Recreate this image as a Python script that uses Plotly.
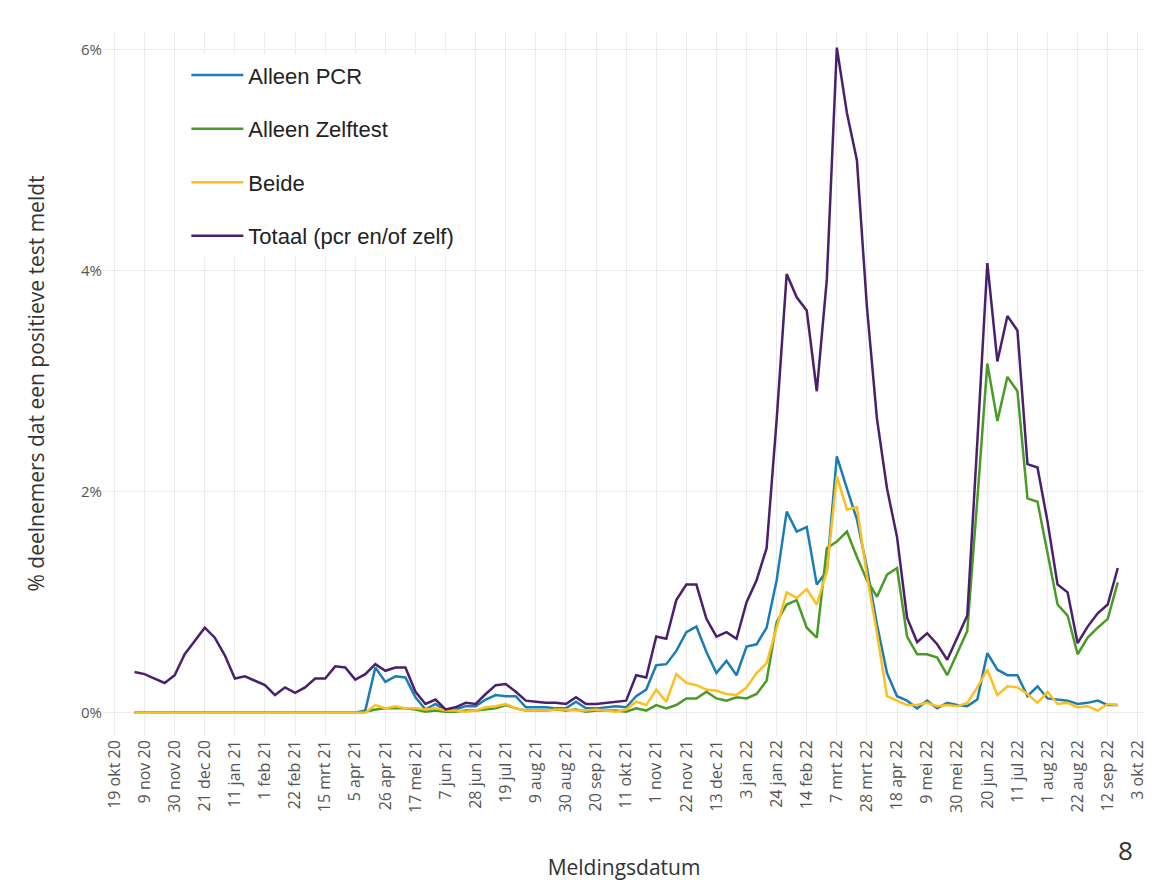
import plotly.graph_objects as go
import pandas as pd

dates = pd.date_range("2020-11-02", periods=99, freq="7D")

totaal = [0.37,0.35,0.31,0.27,0.34,0.53,0.65,0.77,0.68,0.52,0.31,0.33,0.29,0.25,0.16,0.23,0.18,0.23,0.31,0.31,
          0.42,0.41,0.30,0.35,0.44,0.38,0.41,0.41,0.19,0.08,0.12,0.03,0.05,0.09,0.08,0.17,0.25,0.26,0.19,0.11,
          0.10,0.09,0.09,0.08,0.14,0.08,0.08,0.09,0.10,0.11,0.34,0.32,0.69,0.67,1.02,1.16,1.16,0.85,0.69,0.73,
          0.67,1.00,1.20,1.49,2.65,3.97,3.76,3.64,2.91,3.92,6.02,5.43,5.00,3.67,2.66,2.03,1.59,0.86,0.64,0.72,
          0.62,0.48,0.68,0.88,2.45,4.07,3.18,3.59,3.46,2.25,2.22,1.73,1.16,1.09,0.63,0.78,0.90,0.98,1.31]
pcr = [0]*23 + [0.02,0.41,0.28,0.33,0.32,0.14,0.03,0.08,0.02,0.03,0.06,0.06,0.12,0.16,0.15,0.15,0.05,
          0.05,0.05,0.04,0.04,0.10,0.04,0.04,0.05,0.06,0.05,0.15,0.21,0.43,0.44,0.56,0.73,0.78,0.55,0.36,0.47,
          0.34,0.60,0.62,0.77,1.20,1.82,1.64,1.68,1.16,1.28,2.32,2.03,1.75,1.31,0.80,0.36,0.15,0.11,0.04,0.11,
          0.04,0.09,0.07,0.06,0.12,0.54,0.39,0.34,0.34,0.15,0.24,0.13,0.12,0.11,0.08,0.09,0.11,0.07,0.07]
zelf = [0]*23 + [0.01,0.03,0.04,0.04,0.04,0.03,0.01,0.02,0.01,0.01,0.02,0.02,0.03,0.04,0.07,0.04,0.02,
          0.02,0.02,0.03,0.02,0.03,0.01,0.02,0.02,0.02,0.01,0.04,0.02,0.07,0.04,0.07,0.13,0.13,0.19,0.13,0.11,
          0.14,0.13,0.17,0.29,0.82,0.98,1.02,0.77,0.68,1.49,1.55,1.64,1.41,1.20,1.05,1.25,1.31,0.69,0.53,0.53,
          0.50,0.34,0.54,0.74,1.93,3.16,2.64,3.04,2.91,1.94,1.91,1.45,0.98,0.88,0.53,0.68,0.77,0.85,1.18]
beide = [0]*24 + [0.07,0.04,0.06,0.04,0.04,0.03,0.04,0.02,0.02,0.01,0.02,0.05,0.06,0.08,0.04,0.02,
          0.02,0.02,0.03,0.03,0.02,0.02,0.03,0.02,0.01,0.03,0.10,0.07,0.21,0.10,0.35,0.27,0.25,0.21,0.20,0.17,
          0.16,0.23,0.36,0.45,0.76,1.09,1.04,1.12,0.98,1.28,2.14,1.84,1.86,1.24,0.72,0.15,0.11,0.07,0.07,0.09,
          0.06,0.07,0.06,0.09,0.23,0.39,0.16,0.24,0.23,0.17,0.09,0.19,0.08,0.09,0.05,0.06,0.02,0.08,0.07]

tick_dates = ["2020-10-19","2020-11-09","2020-11-30","2020-12-21","2021-01-11","2021-02-01","2021-02-22",
              "2021-03-15","2021-04-05","2021-04-26","2021-05-17","2021-06-07","2021-06-28","2021-07-19",
              "2021-08-09","2021-08-30","2021-09-20","2021-10-11","2021-11-01","2021-11-22","2021-12-13",
              "2022-01-03","2022-01-24","2022-02-14","2022-03-07","2022-03-28","2022-04-18","2022-05-09",
              "2022-05-30","2022-06-20","2022-07-11","2022-08-01","2022-08-22","2022-09-12","2022-10-03"]
tick_text = ["19 okt 20","9 nov 20","30 nov 20","21 dec 20","11 jan 21","1 feb 21","22 feb 21",
             "15 mrt 21","5 apr 21","26 apr 21","17 mei 21","7 jun 21","28 jun 21","19 jul 21",
             "9 aug 21","30 aug 21","20 sep 21","11 okt 21","1 nov 21","22 nov 21","13 dec 21",
             "3 jan 22","24 jan 22","14 feb 22","7 mrt 22","28 mrt 22","18 apr 22","9 mei 22",
             "30 mei 22","20 jun 22","11 jul 22","1 aug 22","22 aug 22","12 sep 22","3 okt 22"]

series = [("Alleen PCR", pcr, "#1b7db5"), ("Alleen Zelftest", zelf, "#4a9a26"),
          ("Beide", beide, "#fdbf1e"), ("Totaal (pcr en/of zelf)", totaal, "#4a1f6c")]

fig = go.Figure()
for name, vals, col in series:
    fig.add_trace(go.Scatter(x=dates, y=[v/100 for v in vals], mode="lines", name=name,
                             legendgroup=name, line=dict(color=col, width=2.5)))

fig.update_layout(
    width=1152, height=882, paper_bgcolor="white", plot_bgcolor="white",
    margin=dict(l=95, r=12, t=23, b=154),
    font=dict(family="Open Sans", color="#555555"),
    legend=dict(x=0.08, y=0.967, xanchor="left", yanchor="top", bgcolor="white",
                font=dict(family="Liberation Sans", size=22, color="#222222"),
                tracegroupgap=22, itemwidth=52),
    showlegend=True,
)
fig.update_xaxes(range=["2020-10-11", "2022-10-08"], tickvals=tick_dates, ticktext=tick_text,
                 tickangle=-90, showgrid=True, gridcolor="#ebebeb", zeroline=False,
                 tickfont=dict(size=16, color="#555555"),
                 title=dict(text="Meldingsdatum", font=dict(size=21, color="#333333"), standoff=48))
fig.update_yaxes(range=[-0.0021, 0.0617], tickvals=[0, 0.02, 0.04, 0.06], tickformat=".0%",
                 showgrid=True, gridcolor="#ebebeb", zeroline=False, ticks="",
                 tickfont=dict(size=15, color="#555555"),
                 title=dict(text="% deelnemers dat een positieve test meldt",
                            font=dict(size=21, color="#333333"), standoff=30))
fig.add_annotation(x=0.99, y=-0.19, xref="paper", yref="paper", text="8", showarrow=False,
                   font=dict(size=26, color="#333333"))
fig.write_html("out.html")
